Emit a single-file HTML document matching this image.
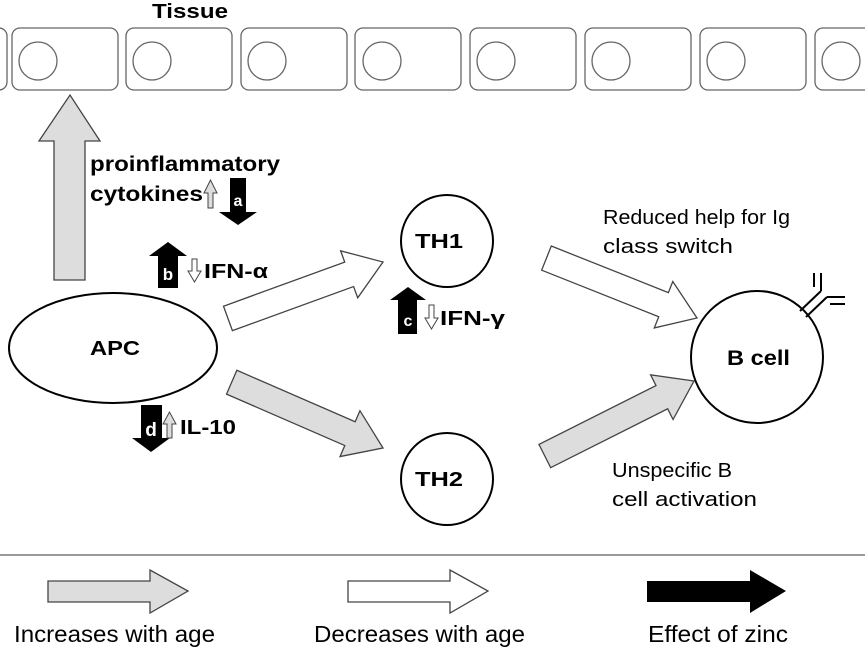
<!DOCTYPE html>
<html><head><meta charset="utf-8"><style>html,body{margin:0;padding:0;background:#fff}svg{display:block}</style></head>
<body>
<svg width="865" height="649" viewBox="0 0 865 649" xmlns="http://www.w3.org/2000/svg" font-family="Liberation Sans, sans-serif">
<text x="152" y="18" font-size="20" font-weight="bold" textLength="76" lengthAdjust="spacingAndGlyphs">Tissue</text>
<g fill="#fff" stroke="#666" stroke-width="1.3">
<rect x="-100" y="28" width="107" height="62" rx="8"/>
<rect x="12" y="28" width="106" height="62" rx="8"/><circle cx="38" cy="61" r="19"/>
<rect x="126" y="28" width="106" height="62" rx="8"/><circle cx="152" cy="61" r="19"/>
<rect x="241" y="28" width="106" height="62" rx="8"/><circle cx="267" cy="61" r="19"/>
<rect x="355" y="28" width="106" height="62" rx="8"/><circle cx="382" cy="61" r="19"/>
<rect x="470" y="28" width="106" height="62" rx="8"/><circle cx="496" cy="61" r="19"/>
<rect x="585" y="28" width="106" height="62" rx="8"/><circle cx="611" cy="61" r="19"/>
<rect x="700" y="28" width="106" height="62" rx="8"/><circle cx="726" cy="61" r="19"/>
<rect x="815" y="28" width="106" height="62" rx="8"/><circle cx="841" cy="61" r="19"/>
</g>
<polygon points="54,280 54,141 39,141 70,95 100,141 85,141 85,280" fill="#ddd" stroke="#444" stroke-width="1.3"/>
<text x="90" y="171" font-size="21" font-weight="bold" textLength="190" lengthAdjust="spacingAndGlyphs">proinflammatory</text>
<text x="90" y="201" font-size="21" font-weight="bold" textLength="113" lengthAdjust="spacingAndGlyphs">cytokines</text>
<polygon points="208,208 208,193 204,193 210.5,180 217,193 213,193 213,208" fill="#ddd" stroke="#444" stroke-width="1"/>
<polygon points="230,178 246,178 246,212 257,212 238,225 219,212 230,212" fill="#000"/>
<text x="238" y="206" font-size="16" font-weight="bold" fill="#fff" text-anchor="middle">a</text>
<polygon points="158,288 158,256 149,256 168,242 187,256 178,256 178,288" fill="#000"/>
<text x="168" y="280" font-size="17" font-weight="bold" fill="#fff" text-anchor="middle">b</text>
<polygon points="192,259 197,259 197,271 201,271 194.5,282 188,271 192,271" fill="#fff" stroke="#444" stroke-width="1"/>
<text x="204" y="278" font-size="20" font-weight="bold" textLength="64" lengthAdjust="spacingAndGlyphs">IFN-α</text>
<polygon points="398,334 398,300 390,300 408,287 426,300 417,300 417,334" fill="#000"/>
<text x="408" y="326" font-size="16" font-weight="bold" fill="#fff" text-anchor="middle">c</text>
<polygon points="429,305 434,305 434,318 438,318 431.5,329 425,318 429,318" fill="#fff" stroke="#444" stroke-width="1"/>
<text x="440" y="325" font-size="20" font-weight="bold" textLength="65" lengthAdjust="spacingAndGlyphs">IFN-γ</text>
<polygon points="141,405 162,405 162,438 170,438 151,452 132,438 141,438" fill="#000"/>
<text x="151" y="436" font-size="19" font-weight="bold" fill="#fff" text-anchor="middle">d</text>
<polygon points="167,438 167,424 163,424 169.5,412 176,424 172,424 172,438" fill="#ddd" stroke="#444" stroke-width="1"/>
<text x="180" y="434" font-size="20" font-weight="bold" textLength="56" lengthAdjust="spacingAndGlyphs">IL-10</text>
<g stroke="#444" stroke-width="1.3">
<polygon transform="translate(383,262) rotate(-20)" points="0,0 -36,-25 -36,-13 -165,-13 -165,13 -36,13 -36,25" fill="#fff"/>
<polygon transform="translate(383,448) rotate(23.5)" points="0,0 -36,-25 -36,-13 -165,-13 -165,13 -36,13 -36,25" fill="#ddd"/>
<polygon transform="translate(697,318) rotate(21.7)" points="0,0 -36,-25 -36,-13 -162,-13 -162,13 -36,13 -36,25" fill="#fff"/>
<polygon transform="translate(694,381) rotate(-26.7)" points="0,0 -36,-25 -36,-13 -167,-13 -167,13 -36,13 -36,25" fill="#ddd"/>
</g>
<g fill="#fff" stroke="#000" stroke-width="2">
<ellipse cx="113" cy="348" rx="104" ry="55"/>
<circle cx="447" cy="241" r="46"/>
<circle cx="447" cy="479" r="46"/>
<circle cx="757" cy="357" r="66"/>
</g>
<g stroke="#000" stroke-width="2" fill="none">
<line x1="800" y1="311" x2="821" y2="291"/><line x1="806" y1="317" x2="827" y2="297"/>
<line x1="814" y1="273" x2="814" y2="287"/><line x1="821" y1="273" x2="821" y2="291"/>
<line x1="827" y1="297" x2="845" y2="297"/><line x1="830" y1="304" x2="845" y2="304"/>
</g>
<text x="90" y="355" font-size="20" font-weight="bold" textLength="50" lengthAdjust="spacingAndGlyphs">APC</text>
<text x="415" y="248" font-size="20" font-weight="bold" textLength="48" lengthAdjust="spacingAndGlyphs">TH1</text>
<text x="415" y="486" font-size="20" font-weight="bold" textLength="48" lengthAdjust="spacingAndGlyphs">TH2</text>
<text x="727" y="365" font-size="21" font-weight="bold" textLength="63" lengthAdjust="spacingAndGlyphs">B cell</text>
<text x="603" y="224" font-size="20" textLength="187" lengthAdjust="spacingAndGlyphs">Reduced help for Ig</text>
<text x="603" y="253" font-size="20" textLength="130" lengthAdjust="spacingAndGlyphs">class switch</text>
<text x="612" y="477" font-size="20" textLength="120" lengthAdjust="spacingAndGlyphs">Unspecific B</text>
<text x="612" y="506" font-size="20" textLength="145" lengthAdjust="spacingAndGlyphs">cell activation</text>
<line x1="0" y1="555" x2="865" y2="555" stroke="#999" stroke-width="2"/>
<polygon points="48,581 150,581 150,570 188,591 150,613 150,602 48,602" fill="#ddd" stroke="#444" stroke-width="1.3"/>
<polygon points="348,581 450,581 450,570 488,591 450,613 450,602 348,602" fill="#fff" stroke="#444" stroke-width="1.3"/>
<polygon points="647,581 750,581 750,570 786,591 750,613 750,602 647,602" fill="#000"/>
<text x="14" y="642" font-size="23" textLength="201" lengthAdjust="spacingAndGlyphs">Increases with age</text>
<text x="314" y="642" font-size="23" textLength="211" lengthAdjust="spacingAndGlyphs">Decreases with age</text>
<text x="648" y="642" font-size="23" textLength="140" lengthAdjust="spacingAndGlyphs">Effect of zinc</text>
</svg>
</body></html>
